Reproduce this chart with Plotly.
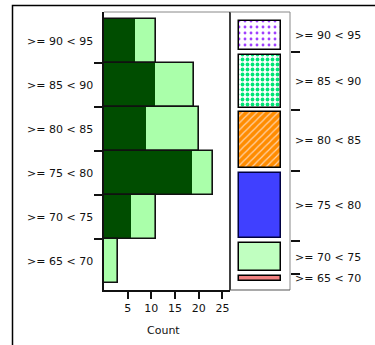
import plotly.graph_objects as go

# ---------------- data ----------------
bins = [">= 65 < 70", ">= 70 < 75", ">= 75 < 80", ">= 80 < 85", ">= 85 < 90", ">= 90 < 95"]
total_counts = [3, 11, 23, 20, 19, 11]
dark_counts = [0, 5.6, 18.6, 8.9, 10.8, 6.5]
x_ticks = [5, 10, 15, 20, 25]
x_title = "Count"

# ---------------- styles ----------------
FONT = "DejaVu Sans"
FS = 11
DARK = "#004d00"
LIGHT = "#aaffaa"
box_fill = ["#f08080", "#c0ffc0", "#4040ff", "#ff8c00", "#ffffff", "#ffffff"]
box_shape = ["", "", "", "/", ".", "."]
box_fg = ["#f08080", "#c0ffc0", "#4040ff", "#ffd2a6", "#00e676", "#a040ff"]
box_size = [8, 8, 8, 5, 5, 6]
box_solid = [0.3, 0.3, 0.3, 0.25, 0.45, 0.18]
box_line = ["#000000", "#000000", "#000040", "#000000", "#000000", "#000000"]

W, H = 375, 345
xd = [104 / W, 230 / W]
xd2 = [230 / W, 290 / W]
yd = [(H - 290) / H, (H - 12) / H]

pos = list(range(len(bins)))
n = len(bins)
grand = sum(total_counts)
starts = [sum(total_counts[:i]) for i in range(n)]
centers = [s + c / 2 for s, c in zip(starts, total_counts)]
bounds = [s for s in starts[1:]]
gap = 0.8

fig = go.Figure()

# left panel: total (light) then dark overlay then outline
fig.add_trace(go.Bar(y=pos, x=total_counts, orientation="h", width=1,
                     marker=dict(color=LIGHT, line=dict(width=0)),
                     xaxis="x", yaxis="y", showlegend=False, hoverinfo="skip"))
fig.add_trace(go.Bar(y=pos, x=dark_counts, orientation="h", width=1,
                     marker=dict(color=DARK, line=dict(width=0)),
                     xaxis="x", yaxis="y", showlegend=False, hoverinfo="skip"))
fig.add_trace(go.Bar(y=pos, x=total_counts, orientation="h", width=1,
                     marker=dict(color="rgba(0,0,0,0)", line=dict(color="#111111", width=1.6)),
                     xaxis="x", yaxis="y", showlegend=False, hoverinfo="skip"))

# right panel: stacked proportions with gaps, one trace per bin
for i in range(n):
    pat = dict(shape=box_shape[i], fgcolor=box_fg[i], bgcolor=box_fill[i],
               size=box_size[i], solidity=box_solid[i], fillmode="replace")
    fig.add_trace(go.Bar(x=[0], y=[total_counts[i] - 2 * gap],
                         base=[starts[i] + gap], width=0.71,
                         marker=dict(color=box_fill[i],
                                     line=dict(color=box_line[i], width=1.5),
                                     pattern=pat),
                         xaxis="x2", yaxis="y2", showlegend=False, hoverinfo="skip"))

ann = []
for p, b in zip(pos, bins):
    ann.append(dict(x=95 / W, xref="paper", y=p, yref="y", text=b, showarrow=False,
                    xanchor="right", yanchor="middle", font=dict(family=FONT, size=FS, color="#111")))
for c, b in zip(centers, bins):
    ann.append(dict(x=293 / W, xref="paper", y=c, yref="y2", text=b, showarrow=False,
                    xanchor="left", yanchor="middle", font=dict(family=FONT, size=FS, color="#111")))
ann.append(dict(x=163 / W, xref="paper", y=(H - 330) / H, yref="paper", text=x_title,
                showarrow=False, xanchor="center", yanchor="middle",
                font=dict(family=FONT, size=FS, color="#111")))

shapes = [
    # outer frame
    dict(type="rect", xref="paper", yref="paper", x0=12.5 / W, x1=1.05, y0=-0.05, y1=(H - 5.5) / H,
         line=dict(color="#000", width=1.5)),
    # left panel top (gray) and right (black) borders
    dict(type="line", xref="x domain", yref="y domain", x0=0, x1=1, y0=1, y1=1,
         line=dict(color="#888", width=1)),
    dict(type="line", xref="x domain", yref="y domain", x0=1, x1=1, y0=0, y1=1,
         line=dict(color="#000", width=1.5)),
    # right panel frame
    dict(type="line", xref="x2 domain", yref="y2 domain", x0=0, x1=1, y0=1, y1=1,
         line=dict(color="#888", width=1)),
    dict(type="line", xref="x2 domain", yref="y2 domain", x0=1, x1=1, y0=0, y1=1,
         line=dict(color="#888", width=1)),
    dict(type="line", xref="x2 domain", yref="y2 domain", x0=0, x1=1, y0=0, y1=0,
         line=dict(color="#555", width=1.2)),
]

fig.update_layout(
    width=W, height=H, margin=dict(l=0, r=0, t=0, b=0),
    paper_bgcolor="white", plot_bgcolor="white",
    barmode="overlay", bargap=0,
    font=dict(family=FONT, size=FS, color="#111"),
    xaxis=dict(domain=xd, anchor="y", range=[0, 26.6], tickvals=x_ticks,
               ticks="outside", ticklen=7, tickwidth=1.5, tickcolor="#111",
               showline=True, linecolor="#111", linewidth=2, showgrid=False, zeroline=False,
               tickfont=dict(family=FONT, size=FS, color="#111")),
    yaxis=dict(domain=yd, anchor="x", range=[-0.659, n - 1 + 0.659],
               tickvals=[p + 0.5 for p in pos[:-1]], ticktext=[""] * (n - 1),
               ticks="outside", ticklen=8, tickwidth=1.5, tickcolor="#111",
               showline=True, linecolor="#111", linewidth=2, showgrid=False, zeroline=False),
    xaxis2=dict(domain=xd2, anchor="y2", range=[-0.5, 0.5], showticklabels=False,
                ticks="", showline=False, showgrid=False, zeroline=False),
    yaxis2=dict(domain=yd, anchor="x2", side="right", range=[-2.31, grand + 2.31],
                tickvals=bounds, ticktext=[""] * len(bounds),
                ticks="outside", ticklen=9, tickwidth=1.5, tickcolor="#111",
                showline=False, showgrid=False, zeroline=False),
    annotations=ann, shapes=shapes,
)

fig.write_html("out.html", config={"displayModeBar": False},
               post_script="document.body.style.margin='0px';")
